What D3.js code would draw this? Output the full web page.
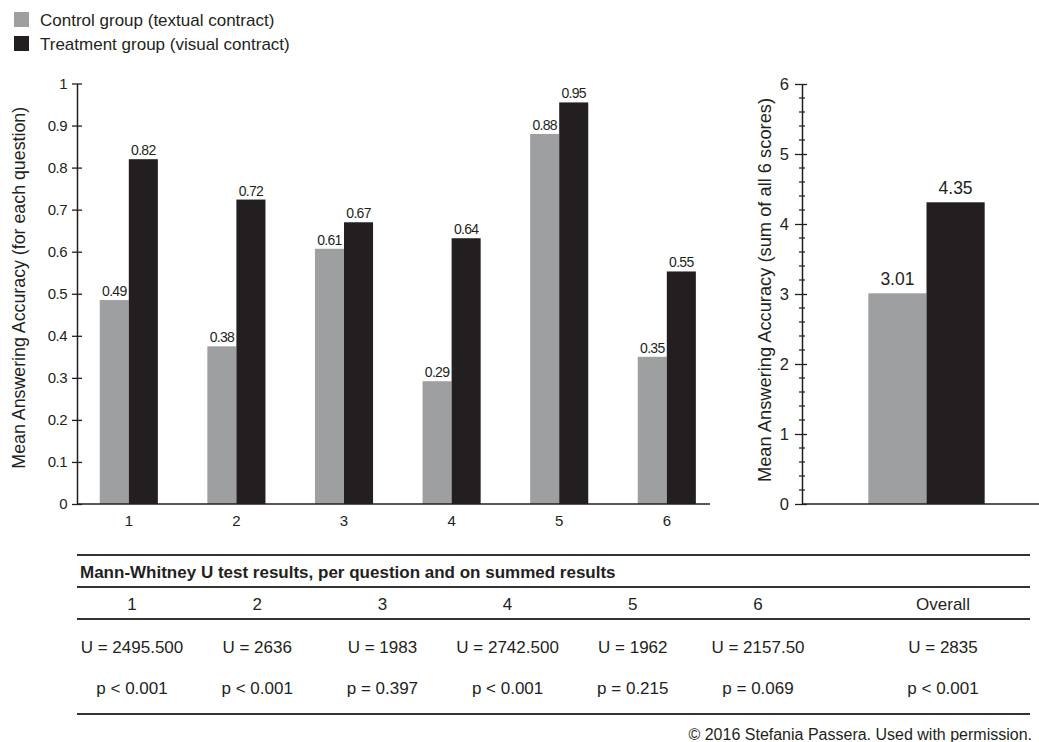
<!DOCTYPE html>
<html><head><meta charset="utf-8">
<script src="https://cdn.jsdelivr.net/npm/d3@7/dist/d3.min.js"></script>
<style>
body{margin:0;background:#fff;}
svg{display:block;font-family:"Liberation Sans",Arial,Helvetica,sans-serif;}
</style></head>
<body><svg id="c" width="1039" height="742"></svg>
<script>
const questions = ["1","2","3","4","5","6"];
const controlValues = [0.485, 0.375, 0.607, 0.292, 0.88, 0.35];
const treatmentValues = [0.82, 0.724, 0.67, 0.632, 0.955, 0.553];
const controlLabels = ["0.49","0.38","0.61","0.29","0.88","0.35"];
const treatmentLabels = ["0.82","0.72","0.67","0.64","0.95","0.55"];
const seriesNames = ["Control group (textual contract)","Treatment group (visual contract)"];
const overallCategory = ["Overall"];
const overallValues = [3.01, 4.31];
const overallLabels = ["3.01","4.35"];
const leftTicks = [0,0.1,0.2,0.3,0.4,0.5,0.6,0.7,0.8,0.9,1];
const leftTickLabels = ["0","0.1","0.2","0.3","0.4","0.5","0.6","0.7","0.8","0.9","1"];
const rightTicks = [0,1,2,3,4,5,6];
const tableTitle = "Mann-Whitney U test results, per question and on summed results";
const tableHeaders = ["1","2","3","4","5","6","Overall"];
const tableU = ["U = 2495.500","U = 2636","U = 1983","U = 2742.500","U = 1962","U = 2157.50","U = 2835"];
const tableP = ["p < 0.001","p < 0.001","p = 0.397","p < 0.001","p = 0.215","p = 0.069","p < 0.001"];
const credit = "\u00a9 2016 Stefania Passera. Used with permission.";

const colors = ["#9e9fa1", "#231f20"];
const ink = "#231f20";
const svg = d3.select("#c");

// Legend
const leg = svg.append("g");
seriesNames.forEach((n,i)=>{
  const g = leg.append("g").attr("transform",`translate(14,${12+i*24})`);
  g.append("rect").attr("width",15).attr("height",15).attr("fill",colors[i]);
  g.append("text").attr("x",26).attr("y",13.5).attr("font-size",17).attr("fill",ink).text(n);
});

// Left chart
const y = d3.scaleLinear().domain([0,1]).range([504,83.5]);
const x0 = d3.scaleBand().domain(questions).range([75,720.6]).paddingInner(0.46).paddingOuter(0.23);
const x1 = d3.scaleBand().domain([0,1]).range([0,x0.bandwidth()]);
const L = svg.append("g");
questions.forEach((q,i)=>{
  const vals=[controlValues[i],treatmentValues[i]];
  const labs=[controlLabels[i],treatmentLabels[i]];
  vals.forEach((v,k)=>{
    L.append("rect").attr("x",x0(q)+x1(k)).attr("y",y(v)).attr("width",x1.bandwidth()).attr("height",y(0)-y(v)).attr("fill",colors[k]);
    L.append("text").attr("x",x0(q)+x1(k)+x1.bandwidth()/2).attr("y",y(v)-4).attr("text-anchor","middle")
      .attr("font-size",14).attr("letter-spacing","-0.7").attr("fill",ink).text(labs[k]);
  });
});
const yAxisL = L.append("g").attr("transform","translate(77,0)")
  .call(d3.axisLeft(y).tickValues(leftTicks).tickFormat((d,i)=>leftTickLabels[i]).tickSizeInner(5).tickSizeOuter(0).tickPadding(5));
yAxisL.selectAll(".tick line").attr("x2",5).attr("x1",-5).attr("stroke",ink).attr("stroke-width",1.3);
yAxisL.select(".domain").attr("stroke",ink).attr("stroke-width",1.5);
yAxisL.selectAll("text").attr("font-size",15).attr("letter-spacing","-0.5").attr("fill",ink).attr("font-family",null);
const xAxisL = L.append("g").attr("transform",`translate(0,${y(0)})`)
  .call(d3.axisBottom(x0).tickSize(0).tickPadding(11));
xAxisL.select(".domain").remove();
xAxisL.selectAll("text").attr("font-size",15).attr("fill",ink).attr("font-family",null);
L.append("line").attr("x1",77).attr("x2",710).attr("y1",y(0)).attr("y2",y(0)).attr("stroke",ink).attr("stroke-width",1.5);
L.append("text").attr("transform",`translate(25,${(y(0)+y(1))/2-6}) rotate(-90)`).attr("text-anchor","middle")
  .attr("font-size",17.8).attr("fill",ink).text("Mean Answering Accuracy (for each question)");

// Right chart
const y2 = d3.scaleLinear().domain([0,6]).range([504,84]);
const xr = d3.scaleBand().domain(overallCategory).range([802,1051]).paddingOuter(0.57).paddingInner(0);
const xr1 = d3.scaleBand().domain([0,1]).range([0,xr.bandwidth()]);
const R = svg.append("g");
overallValues.forEach((v,k)=>{
  R.append("rect").attr("x",xr("Overall")+xr1(k)).attr("y",y2(v)).attr("width",xr1.bandwidth()).attr("height",y2(0)-y2(v)).attr("fill",colors[k]);
  R.append("text").attr("x",xr("Overall")+xr1(k)+xr1.bandwidth()/2).attr("y",y2(v)-8).attr("text-anchor","middle")
    .attr("font-size",17.5).attr("fill",ink).text(overallLabels[k]);
});
const minor = d3.range(0,30).map(i=>i*0.2).filter(d=>Math.abs(d-Math.round(d))>1e-6 && d<6);
const yAxisR = R.append("g").attr("transform","translate(802,0)");
yAxisR.call(d3.axisLeft(y2).tickValues(rightTicks).tickFormat(d3.format("d")).tickSizeOuter(0).tickPadding(7));
yAxisR.selectAll(".tick line").attr("x1",-7).attr("x2",5).attr("stroke",ink).attr("stroke-width",1.3);
yAxisR.select(".domain").attr("stroke",ink).attr("stroke-width",1.5);
yAxisR.selectAll("text").attr("font-size",16.5).attr("fill",ink).attr("font-family",null);
yAxisR.selectAll(".minor").data(minor).enter().append("line").attr("class","minor")
  .attr("x1",-3).attr("x2",3).attr("y1",d=>y2(d)).attr("y2",d=>y2(d)).attr("stroke",ink).attr("stroke-width",1.2);
R.append("line").attr("x1",802).attr("x2",1039).attr("y1",y2(0)).attr("y2",y2(0)).attr("stroke",ink).attr("stroke-width",1.5);
R.append("text").attr("transform",`translate(771,${(y2(0)+y2(6))/2-4}) rotate(-90)`).attr("text-anchor","middle")
  .attr("font-size",18.3).attr("fill",ink).text("Mean Answering Accuracy (sum of all 6 scores)");

// Table
const colX = d3.scalePoint().domain(tableHeaders.slice(0,6)).range([132,758]);
const cx = (i)=> i<6 ? colX(tableHeaders[i]) : 943;
const T = svg.append("g").attr("fill",ink);
[555,587,619,714].forEach(yy=>T.append("line").attr("x1",77).attr("x2",1030).attr("y1",yy).attr("y2",yy).attr("stroke","#333").attr("stroke-width",2));
T.append("text").attr("x",80).attr("y",578).attr("font-size",17).attr("font-weight","bold").text(tableTitle);
tableHeaders.forEach((h,i)=>{
  T.append("text").attr("x",cx(i)).attr("y",610).attr("text-anchor","middle").attr("font-size",17).text(h);
  T.append("text").attr("x",cx(i)).attr("y",653).attr("text-anchor","middle").attr("font-size",17).text(tableU[i]);
  T.append("text").attr("x",cx(i)).attr("y",694).attr("text-anchor","middle").attr("font-size",17).text(tableP[i]);
});
T.append("text").attr("x",1032).attr("y",740).attr("text-anchor","end").attr("font-size",16).text(credit);
</script></body></html>
